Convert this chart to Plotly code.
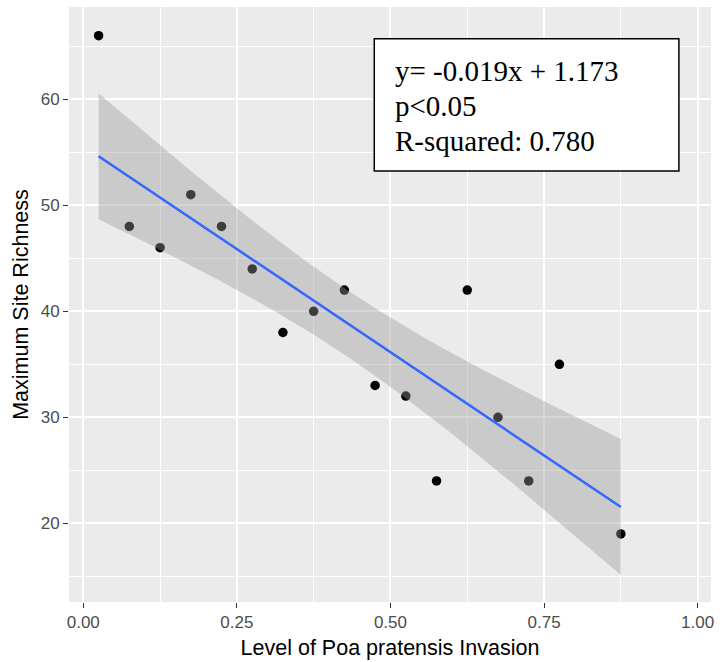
import numpy as np
import plotly.graph_objects as go

# Data
invasion = [0.025, 0.075, 0.125, 0.175, 0.225, 0.275, 0.325, 0.375, 0.425,
            0.475, 0.525, 0.575, 0.625, 0.675, 0.725, 0.775, 0.875]
richness = [66, 48, 46, 51, 48, 44, 38, 40, 42, 33, 32, 24, 42, 30, 24, 35, 19]

x_ticks = [0.0, 0.25, 0.5, 0.75, 1.0]
x_tick_labels = ["0.00", "0.25", "0.50", "0.75", "1.00"]
y_ticks = [20, 30, 40, 50, 60]
y_tick_labels = ["20", "30", "40", "50", "60"]

annotation_lines = ["y= -0.019x + 1.173", "p<0.05", "R-squared: 0.780"]

# Linear model fit (like geom_smooth(method='lm')) with 95% CI
x = np.array(invasion)
y = np.array(richness)
n = len(x)
slope, intercept = np.polyfit(x, y, 1)
resid = y - (slope * x + intercept)
s = np.sqrt(np.sum(resid ** 2) / (n - 2))
xbar = x.mean()
sxx = np.sum((x - xbar) ** 2)
t_crit = 2.131  # t(0.975, df=15)
xs = np.linspace(x.min(), x.max(), 80)
fit = slope * xs + intercept
se = s * np.sqrt(1.0 / n + (xs - xbar) ** 2 / sxx)
upper = fit + t_crit * se
lower = fit - t_crit * se

fig = go.Figure()

fig.add_trace(go.Scatter(
    x=invasion, y=richness, mode="markers",
    marker=dict(color="black", size=9.5, line=dict(width=0)),
    showlegend=False, hoverinfo="x+y",
))

fig.add_trace(go.Scatter(
    x=list(xs) + list(xs[::-1]),
    y=list(upper) + list(lower[::-1]),
    fill="toself", fillcolor="rgba(153,153,153,0.4)",
    line=dict(width=0), mode="lines",
    showlegend=False, hoverinfo="skip",
))

fig.add_trace(go.Scatter(
    x=xs, y=fit, mode="lines",
    line=dict(color="#3366FF", width=2.5),
    showlegend=False, hoverinfo="skip",
))

axis_common = dict(
    showgrid=True, gridcolor="white", gridwidth=1.6,
    zeroline=False, showline=False,
    ticks="outside", ticklen=5, tickwidth=1.2, tickcolor="#333333",
    tickfont=dict(family="Liberation Sans, Arial, sans-serif", size=17, color="#4D4D4D"),
    title_font=dict(family="Liberation Sans, Arial, sans-serif", size=21.5, color="black"),
)

fig.update_xaxes(
    range=[-0.0232, 1.0217],
    tickvals=x_ticks, ticktext=x_tick_labels,
    minor=dict(tickvals=[0.125, 0.375, 0.625, 0.875], showgrid=True,
               gridcolor="white", gridwidth=0.8, ticks=""),
    title=dict(text="Level of Poa pratensis Invasion", standoff=8),
    **axis_common,
)
fig.update_yaxes(
    range=[12.58, 68.7],
    tickvals=y_ticks, ticktext=y_tick_labels,
    minor=dict(tickvals=[15, 25, 35, 45, 55, 65], showgrid=True,
               gridcolor="white", gridwidth=0.8, ticks=""),
    title=dict(text="Maximum Site Richness", standoff=6),
    **axis_common,
)

fig.add_shape(
    type="rect", xref="paper", yref="paper",
    x0=0.4755, x1=0.950, y0=0.7244, y1=0.9467,
    fillcolor="white", line=dict(color="black", width=1.5), layer="above",
)

# line centres in pixel rows 70.7, 106.5, 141.5 -> paper coords
line_centres_px = [70.7, 106.5, 141.5]
for txt, py in zip(annotation_lines, line_centres_px):
    fig.add_annotation(
        xref="paper", yref="paper", x=0.5054, y=(602 - py) / 595,
        xanchor="left", yanchor="middle", align="left",
        text=txt, showarrow=False,
        font=dict(family="Liberation Serif, Times New Roman, serif", size=29, color="black"),
    )

fig.update_layout(
    width=720, height=662,
    margin=dict(l=69, r=6, t=7, b=60),
    plot_bgcolor="#EBEBEB", paper_bgcolor="white",
    showlegend=False,
)

fig.write_html("out.html")
